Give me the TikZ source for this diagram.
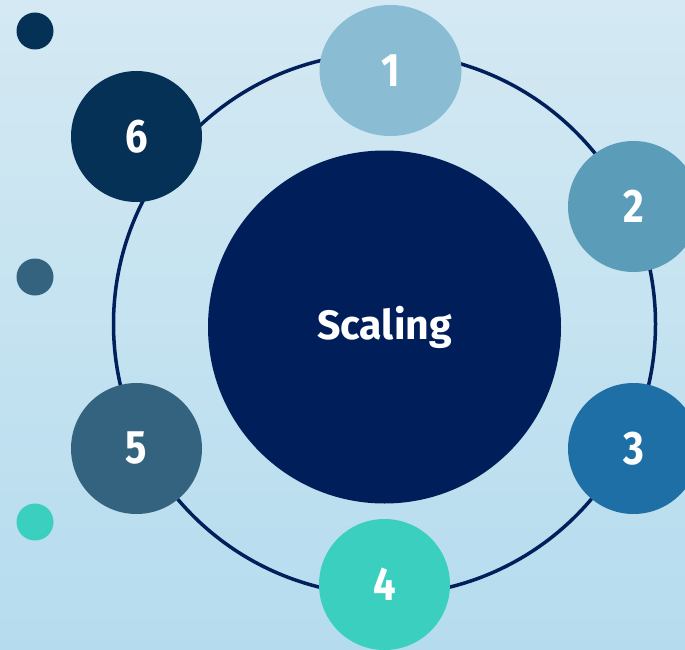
\documentclass[tikz,border=0pt]{standalone}
\usepackage{fontspec}
\usetikzlibrary{shapes.geometric}
\setmainfont{Fira Sans}[BoldFont={* Bold}]
\newfontfamily\numfont{Fira Sans Bold}[FakeStretch=0.85]
\definecolor{bgtop}{HTML}{D4E9F3}
\definecolor{bgbot}{HTML}{B5DCEE}
\definecolor{ringc}{HTML}{001F5B}
\definecolor{corec}{HTML}{001F5A}
\definecolor{cone}{HTML}{8ABDD3}
\definecolor{ctwo}{HTML}{5B9DB8}
\definecolor{cthree}{HTML}{1E6FA5}
\definecolor{cfour}{HTML}{3BCFBF}
\definecolor{cfive}{HTML}{346380}
\definecolor{csix}{HTML}{063157}
\begin{document}
\begin{tikzpicture}[x=1pt,y=-1pt,
  bubble/.style={circle,minimum size=131pt,inner sep=0pt,text=white,font=\numfont\fontsize{47}{47}\selectfont},
  dot/.style={circle,minimum size=37pt,inner sep=0pt}]
\shade[top color=bgtop,bottom color=bgbot] (0,0) rectangle (685,650);
\useasboundingbox (0,0) rectangle (685,650);
\coordinate (c) at (384.5,324);
\draw[ringc,line width=3.5pt] (c) ellipse [x radius=271, y radius=271];
\node[circle,fill=corec,minimum size=353pt,inner sep=0pt,text=white,font=\bfseries\fontsize{41}{41}\selectfont] (core) at (384.5,327) {Scaling};
\node[ellipse,fill=cone,minimum width=142pt,minimum height=131pt,inner sep=0pt,text=white,font=\numfont\fontsize{47}{47}\selectfont] (n1) at (390.5,70.5) {1};
\node[bubble,fill=ctwo] (n2) at (633.5,206.5) {2};
\node[bubble,fill=cthree] (n3) at (633.5,448.5) {3};
\node[bubble,fill=cfour] (n4) at (384.5,584.5) {4};
\node[bubble,fill=cfive] (n5) at (136.5,448.5) {5};
\node[bubble,fill=csix] (n6) at (136.5,136.5) {6};
\node[dot,fill=csix] (d1) at (35,31) {};
\node[dot,fill=cfive] (d2) at (35,277) {};
\node[dot,fill=cfour] (d3) at (35,522) {};
\end{tikzpicture}
\end{document}
